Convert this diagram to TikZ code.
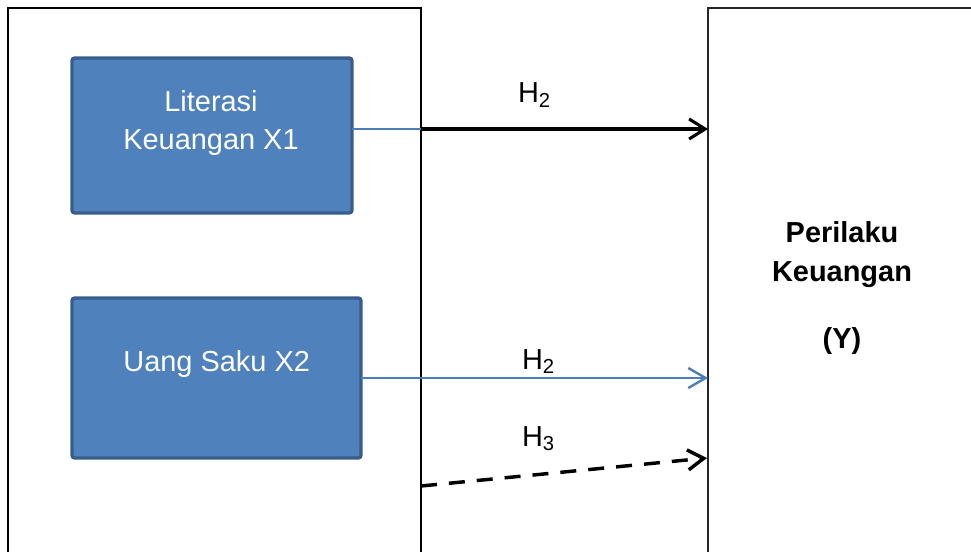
\documentclass[tikz,border=0pt]{standalone}
\usepackage{fontspec}
\setmainfont{Liberation Sans}
\usetikzlibrary{arrows.meta}
\definecolor{boxfill}{HTML}{4F81BD}
\definecolor{boxline}{HTML}{385D8A}
\definecolor{lineblue}{HTML}{4A7EBB}
\begin{document}
\begin{tikzpicture}[x=0.75pt,y=-0.75pt,
  every node/.style={outer sep=0pt, inner sep=0pt},
  bigfont/.style={font=\fontsize{21.7pt}{26pt}\selectfont},
  frameL/.style={draw=black, line width=1.5pt, rectangle, anchor=north west},
  frameR/.style={draw=black!85, line width=1pt, rectangle, anchor=north west},
  varbox/.style={draw=boxline, fill=boxfill, line width=2.5pt, rounded corners=2pt, rectangle},
  boxtext/.style={bigfont, text=white, anchor=base},
  ytext/.style={bigfont, font=\fontsize{21.7pt}{26pt}\selectfont\bfseries, anchor=base},
  hlabel/.style={bigfont, anchor=base west},
  blueline/.style={draw=lineblue, line width=1.2pt},
  blackarrow/.style={draw=black, line width=2.3pt, -{Straight Barb[length=12pt,width=15pt]}},
  bluearrow/.style={draw=lineblue, line width=1.3pt, -{Straight Barb[length=13pt,width=15pt, line width=1.8pt]}},
  dasharrow/.style={draw=black, line width=2.6pt, dash pattern=on 12pt off 9pt, -{Straight Barb[length=12pt,width=15pt]}}
]
\useasboundingbox (0,0) rectangle (971,552);

% frames
\node[frameL, minimum width=309.75pt, minimum height=450pt] (L) at (8,8) {};
\node[frameR, minimum width=300pt, minimum height=450pt] (R) at (708,8) {};

% variable boxes
\node[varbox, minimum width=210pt, minimum height=116.25pt] (B1) at (212,135.5) {};
\node[varbox, minimum width=216.75pt, minimum height=120pt] (B2) at (216.5,378) {};

% texts
\node[boxtext] (t1a) at (211,111.5) {Literasi};
\node[boxtext] (t1b) at (211,150) {Keuangan X1};
\node[boxtext] (t2) at (216.7,371.7) {Uang Saku X2};
\node[ytext] (y1) at (842,243) {Perilaku};
\node[ytext] (y2) at (842,282) {Keuangan};
\node[ytext] (y3) at (842,349) {(Y)};

% connectors
\coordinate (a1) at (352,129);
\draw[blueline] (a1) -- (a1 -| L.east);
\draw[blackarrow] (a1 -| L.east) -- (a1 -| R.west);
\draw[bluearrow] (B2.east) -- (B2.east -| R.west);
\coordinate (d1) at (421,486);
\coordinate (d2) at (707,458);
\draw[dasharrow] (d1) -- (d2);

% labels
\node[hlabel] (h1) at (518,103) {H\textsubscript{2}};
\node[hlabel] (h2) at (522,369) {H\textsubscript{2}};
\node[hlabel] (h3) at (522,446) {H\textsubscript{3}};
\end{tikzpicture}
\end{document}
